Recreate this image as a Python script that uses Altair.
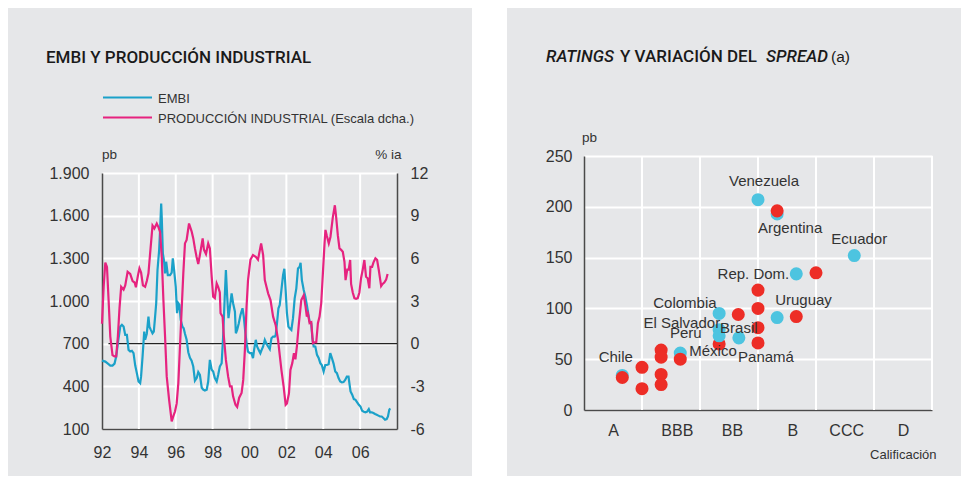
import json
import altair as alt
import pandas as pd

FONT = "Liberation Sans"
TFONT = "Roboto"
BG = "#e6e7e9"
TXT = "#333333"

# ---------------- Left panel data ----------------
embi_t = [0.00, 0.18, 0.32, 0.45, 0.57, 0.68, 0.77, 0.86, 0.99, 1.08, 1.17, 1.26, 1.35, 1.44, 1.53, 1.62,
          1.71, 1.80, 1.89, 1.98, 2.07, 2.12, 2.20, 2.29, 2.34, 2.43, 2.52, 2.57, 2.65, 2.74, 2.81, 2.88,
          2.94, 3.01, 3.10, 3.15, 3.21, 3.24, 3.30, 3.37, 3.42, 3.48, 3.57, 3.69, 3.78, 3.84, 3.91, 4.00,
          4.07, 4.14, 4.20, 4.27, 4.36, 4.43, 4.50, 4.59, 4.68, 4.77, 4.86, 4.95, 5.04, 5.14, 5.22, 5.31,
          5.41, 5.49, 5.58, 5.68, 5.76, 5.85, 5.95, 6.03, 6.12, 6.22, 6.30, 6.39, 6.49, 6.57, 6.65, 6.72,
          6.79, 6.86, 6.94, 7.03, 7.11, 7.21, 7.26, 7.33, 7.42, 7.51, 7.62, 7.69, 7.76, 7.84, 7.92, 8.02,
          8.11, 8.19, 8.25, 8.34, 8.41, 8.50, 8.59, 8.66, 8.74, 8.83, 8.92, 9.01, 9.10, 9.19, 9.28, 9.37,
          9.42, 9.49, 9.57, 9.64, 9.73, 9.82, 9.89, 9.96, 10.03, 10.11, 10.18, 10.27, 10.36, 10.45, 10.54,
          10.63, 10.72, 10.77, 10.84, 10.94, 11.03, 11.11, 11.17, 11.26, 11.35, 11.41, 11.48, 11.57, 11.66,
          11.75, 11.84, 11.92, 12.02, 12.11, 12.20, 12.29, 12.38, 12.47, 12.56, 12.65, 12.74, 12.83, 12.92,
          13.01, 13.10, 13.19, 13.28, 13.37, 13.42, 13.48, 13.57, 13.66, 13.75, 13.84, 13.93, 14.02, 14.11,
          14.20, 14.29, 14.38, 14.47, 14.54, 14.63, 14.72, 14.81, 14.90, 14.99, 15.08, 15.17, 15.26, 15.35,
          15.44, 15.51, 15.58, 15.63]
embi_v = [581, 574, 560, 546, 546, 560, 609, 703, 820, 832, 820, 762, 762, 656, 645, 650,
          633, 548, 493, 434, 422, 470, 609, 785, 727, 770, 890, 820, 797, 773, 785, 890,
          984, 1218, 1358, 1498, 1686, 1592, 1335, 1276, 1194, 1276, 1182, 1182, 1199, 1300, 1218, 1100,
          914, 984, 972, 867, 820, 808, 770, 727, 640, 600, 580, 539, 440, 460, 500, 480,
          390, 376, 370, 376, 434, 586, 516, 504, 458, 434, 480, 539, 563, 750, 1007, 1218,
          1030, 879, 960, 1054, 984, 925, 773, 797, 843, 902, 949, 890, 797, 703, 644, 633,
          633, 598, 656, 727, 680, 656, 633, 656, 680, 727, 700, 680, 661, 738, 750, 750,
          760, 843, 949, 972, 1077, 1182, 1227, 1077, 914, 820, 808, 797, 879, 1019, 1089,
          1229, 1241, 1269, 1147, 1077, 1030, 972, 925, 855, 843, 738, 680, 680, 621,
          600, 563, 550, 504, 550, 550, 555, 633, 598, 560, 504, 493, 458, 434,
          428, 430, 445, 469, 469, 420, 364, 341, 310, 305, 287, 270, 258, 228,
          222, 217, 222, 240, 217, 217, 212, 205, 200, 194, 188, 188, 177, 165,
          170, 188, 235, 245]

ip_t = [0.00, 0.09, 0.18, 0.27, 0.36, 0.45, 0.57, 0.68, 0.77, 0.86, 0.95, 1.04, 1.17, 1.26, 1.39, 1.53,
        1.66, 1.77, 1.84, 1.95, 2.03, 2.12, 2.22, 2.34, 2.43, 2.52, 2.61, 2.74, 2.84, 2.97, 3.06, 3.15,
        3.24, 3.33, 3.42, 3.51, 3.64, 3.78, 3.87, 3.96, 4.05, 4.14, 4.27, 4.41, 4.50, 4.59, 4.72, 4.86,
        4.95, 5.04, 5.13, 5.22, 5.31, 5.46, 5.53, 5.64, 5.76, 5.85, 5.95, 6.03, 6.12, 6.22, 6.30, 6.39,
        6.43, 6.54, 6.61, 6.72, 6.84, 6.94, 7.03, 7.11, 7.24, 7.33, 7.44, 7.57, 7.66, 7.75, 7.84, 7.92,
        8.05, 8.19, 8.34, 8.46, 8.56, 8.63, 8.74, 8.83, 8.92, 9.01, 9.14, 9.28, 9.42, 9.55, 9.64, 9.73,
        9.85, 9.96, 10.03, 10.14, 10.22, 10.32, 10.41, 10.49, 10.57, 10.68, 10.81, 10.94, 11.04, 11.11,
        11.17, 11.26, 11.35, 11.44, 11.53, 11.62, 11.71, 11.80, 11.89, 11.98, 12.07, 12.12, 12.19, 12.30,
        12.39, 12.52, 12.63, 12.70, 12.79, 12.88, 12.97, 13.06, 13.15, 13.21, 13.30, 13.38, 13.46, 13.51,
        13.60, 13.69, 13.78, 13.87, 13.96, 14.05, 14.14, 14.23, 14.32, 14.41, 14.50, 14.56, 14.65, 14.72,
        14.83, 14.92, 15.01, 15.14, 15.22, 15.31, 15.41, 15.49]
ip_v = [1.4, 4.0, 5.7, 5.4, 3.0, 0.5, -0.8, -0.9, -0.9, 0.5, 2.5, 4.0, 3.8, 4.1, 5.05, 4.9,
        4.4, 4.3, 3.97, 4.8, 5.3, 5.0, 4.1, 4.0, 4.4, 4.95, 6.35, 8.3, 8.1, 8.45, 8.2, 7.86,
        6.1, 3.07, 0.5, -2.3, -3.95, -5.47, -5.1, -4.77, -4.2, -2.77, 0.97, 4.94, 7.05, 7.3, 8.45, 7.9,
        7.4, 6.7, 6.1, 5.6, 6.23, 7.4, 6.6, 6.3, 7.05, 6.7, 4.7, 3.3, 3.2, 4.24, 4.0, 3.6,
        2.14, 1.9, 0.5, -1.14, -2.3, -3.0, -3.0, -3.7, -4.3, -4.45, -3.8, -3.47, -2.55, -0.44, 2.6, 4.47,
        5.9, 6.23, 6.1, 5.9, 6.58, 7.05, 6.23, 4.47, 4.0, 3.54, 3.07, 1.9, 1.3, 0.26, -0.8, -1.84,
        -3.0, -4.3, -4.2, -3.5, -1.84, -1.37, -0.67, -1.1, -0.2, 1.44, 3.07, 3.4, 2.6, 1.9,
        2.1, 1.44, 1.5, 0.03, 0.1, 0.1, 1.44, 1.9, 2.84, 4.94, 7.05, 8.0, 7.6, 7.05,
        7.5, 8.9, 9.73, 8.9, 7.63, 6.7, 6.6, 6.46, 5.76, 4.47, 5.2, 5.2, 5.88, 4.2,
        3.6, 3.2, 3.15, 3.2, 3.6, 4.6, 5.2, 5.88, 4.7, 4.6, 3.9, 5.4, 5.4, 5.7,
        6.0, 5.9, 5.2, 4.05, 4.2, 4.3, 4.5, 4.9]

START_YEAR = 1992
year_ticks = [1992, 1994, 1996, 1998, 2000, 2002, 2004, 2006]
grid_years = [1994, 1996, 1998, 2000, 2002, 2004, 2006]
x_domain = [1992, 2008]
embi_ticks = [100, 400, 700, 1000, 1300, 1600, 1900]
ip_ticks = [-6, -3, 0, 3, 6, 9, 12]
zero_line = [1992.35, 2008]

# ---------------- Right panel data ----------------
rating_labels = ["A", "BBB", "BB", "B", "CCC", "D"]
rating_label_pos = [0.5, 1.6, 2.55, 3.59, 4.52, 5.5]
rating_bounds = [1, 2, 3, 4, 5, 6]
spread_ticks = [0, 50, 100, 150, 200, 250]

pt_serie = (["azul"] * 7) + (["rojo"] * 17) + (["azul"] * 4)
pt_x = [0.66, 1.66, 3.0, 3.33, 3.33, 3.66, 4.66,
        0.66, 1.0, 1.0, 1.33, 1.33, 1.33, 1.33, 1.66, 2.33, 2.66, 3.0, 3.0, 3.0, 3.0, 3.33, 3.66, 4.0,
        2.33, 2.33, 2.33, 2.67]
pt_y = [34, 56, 207, 193, 91, 134, 152,
        32, 42, 21, 59, 52, 35, 25, 50, 65, 94, 118, 100, 81, 66, 196, 92, 135,
        95, 79, 73, 71]
pt_name = ["Chile", "México", "Venezuela", "", "Uruguay", "Rep. Dom.", "Ecuador",
           "", "", "", "", "", "", "", "", "", "", "", "", "", "Panamá", "Argentina", "", "",
           "Colombia", "El Salvador", "Perú", "Brasil"]

# label styling: name -> (dx, dy, align)
label_style = {
    "Venezuela": (6, -19, "center"),
    "Argentina": (13, 17.5, "center"),
    "Ecuador": (5, -17, "center"),
    "Rep. Dom.": (-7, 0, "right"),
    "Colombia": (-2.5, -10, "right"),
    "Uruguay": (-2, -17.5, "left"),
    "El Salvador": (1, -7, "right"),
    "Perú": (-17.5, -3, "right"),
    "Brasil": (0, -10, "center"),
    "México": (9, -2, "left"),
    "Panamá": (8, 14, "center"),
    "Chile": (-6.5, -18, "center"),
}

# ---------------- helpers ----------------
one = pd.DataFrame({"k": [0]})


def vrect(x1, x2, y1, y2, color):
    return alt.Chart(one).mark_rect(color=color, strokeWidth=0).encode(
        x=alt.value(x1), x2=alt.value(x2), y=alt.value(y1), y2=alt.value(y2))


def txt(text, x, y, size, weight="normal", style="normal", align="left", color=TXT, font=FONT):
    return alt.Chart(pd.DataFrame({"t": [text]})).mark_text(
        align=align, baseline="middle", fontSize=size, fontWeight=weight,
        fontStyle=style, color=color, font=font).encode(
        x=alt.value(x), y=alt.value(y), text="t:N")


# ---------------- Left panel ----------------
LW, LH = 295, 273
LTOP = 17
embi_df = pd.DataFrame({"t": [START_YEAR + v for v in embi_t], "v": embi_v})
ip_df = pd.DataFrame({"t": [START_YEAR + v for v in ip_t], "v": ip_v})

xscale = alt.Scale(domain=x_domain, nice=False, zero=False)
xaxis = alt.Axis(values=year_ticks, labelExpr="substring(toString(datum.value), 2)",
                 grid=False, ticks=False, tickSize=0, labelPadding=15, labelFlush=False,
                 domainColor="#4a4a4a", domainWidth=1.5, title=None)
embi_scale = alt.Scale(domain=[100, 1900], range=[LH, LTOP], nice=False, zero=False)
ip_scale = alt.Scale(domain=[-6, 12], range=[LH, LTOP], nice=False, zero=False)

vgrid_l = alt.Chart(pd.DataFrame({"g": grid_years})).mark_rule(color="white", strokeWidth=2).encode(
    x=alt.X("g:Q", scale=xscale, axis=xaxis),
    y=alt.value(LTOP), y2=alt.value(LH))

zero = alt.Chart(one).mark_rule(color="#222222", strokeWidth=1.2).encode(
    x=alt.X(datum=zero_line[0], scale=xscale, axis=xaxis),
    x2=alt.X2(datum=zero_line[1]),
    y=alt.Y(datum=0, scale=ip_scale, axis=None))

embi_line = alt.Chart(embi_df).mark_line(color="#1ba1c9", strokeWidth=2.2).encode(
    x=alt.X("t:Q", scale=xscale, axis=xaxis),
    y=alt.Y("v:Q", scale=embi_scale,
            axis=alt.Axis(orient="left", values=embi_ticks,
                          labelExpr="replace(format(datum.value, ','), ',', '.')",
                          grid=True, gridColor="white", gridWidth=2, ticks=False, tickSize=0,
                          labelPadding=13, domainColor="#4a4a4a", domainWidth=1.5, title=None)))

ip_line = alt.Chart(ip_df).mark_line(color="#e6237f", strokeWidth=2.2).encode(
    x=alt.X("t:Q", scale=xscale, axis=xaxis),
    y=alt.Y("v:Q", scale=ip_scale,
            axis=alt.Axis(orient="right", values=ip_ticks, labelExpr="toString(datum.value)",
                          grid=False, ticks=False, tickSize=0, labelPadding=13,
                          domainColor="#4a4a4a", domainWidth=1.5, title=None)))

leg1 = alt.Chart(one).mark_rule(color="#1ba1c9", strokeWidth=2).encode(
    x=alt.value(1), x2=alt.value(50), y=alt.value(-58.5))
leg2 = alt.Chart(one).mark_rule(color="#e6237f", strokeWidth=2).encode(
    x=alt.value(1), x2=alt.value(50), y=alt.value(-38.5))

left = alt.layer(
    vrect(-94, -88, -148, 320, BG),
    vrect(370, 405, -148, 320, "white"),
    vgrid_l, zero, embi_line, ip_line,
    leg1, leg2,
    txt("EMBI", 56, -57, 13),
    txt("PRODUCCIÓN INDUSTRIAL (Escala dcha.)", 56, -37, 13),
    txt("EMBI Y PRODUCCIÓN INDUSTRIAL", -56, -98.5, 17, weight=500, color="#1a1a1a", font=TFONT),
    txt("pb", 0, -1, 13.5),
    txt("% ia", 299.5, -1, 13.5, align="right"),
).resolve_scale(y="independent").properties(width=LW, height=LH)

# ---------------- Right panel ----------------
RW, RH = 348, 254
pts = pd.DataFrame({"serie": pt_serie, "u": pt_x, "s": pt_y, "pais": pt_name})

rx_scale = alt.Scale(domain=[0, 6], nice=False, zero=False)
ry_scale = alt.Scale(domain=[0, 250], nice=False)
label_expr = "%s[indexof(%s, datum.value)]" % (json.dumps(rating_labels), json.dumps(rating_label_pos))
rx_axis = alt.Axis(values=rating_label_pos, labelExpr=label_expr, grid=False, ticks=False, tickSize=0,
                   labelPadding=12, labelFlush=False, domainColor="#4a4a4a", domainWidth=1.5, title=None)
ry_axis = alt.Axis(values=spread_ticks, grid=True, gridColor="white", gridWidth=2, ticks=False, tickSize=0,
                   labelPadding=12, domainColor="#4a4a4a", domainWidth=1.5, title=None)

vgrid_r = alt.Chart(pd.DataFrame({"g": rating_bounds})).mark_rule(color="white", strokeWidth=2).encode(
    x=alt.X("g:Q", scale=rx_scale, axis=rx_axis),
    y=alt.Y(datum=0, scale=ry_scale, axis=ry_axis),
    y2=alt.Y2(datum=250))

points = alt.Chart(pts).mark_circle(size=170, opacity=1).encode(
    x=alt.X("u:Q", scale=rx_scale, axis=rx_axis),
    y=alt.Y("s:Q", scale=ry_scale, axis=ry_axis),
    color=alt.Color("serie:N", scale=alt.Scale(domain=["azul", "rojo"], range=["#4dc4e0", "#ed2d26"]),
                    legend=None))

label_layers = []
for name, (dx, dy, align) in label_style.items():
    label_layers.append(
        alt.Chart(pts).transform_filter(alt.datum.pais == name).mark_text(
            dx=dx, dy=dy, align=align, baseline="middle", fontSize=15, font=FONT, color=TXT).encode(
            x=alt.X("u:Q", scale=rx_scale, axis=rx_axis),
            y=alt.Y("s:Q", scale=ry_scale, axis=ry_axis),
            text="pais:N"))

right = alt.layer(
    vrect(-77, -72, -148, -142, BG),
    vrect(371, 377, -148, -142, BG),
    vgrid_r, points, *label_layers,
    txt("RATINGS", -38, -99, 17, weight=500, style="italic", color="#1a1a1a", font=TFONT),
    txt("Y VARIACIÓN DEL", 36, -99, 17, weight=500, color="#1a1a1a", font=TFONT),
    txt("SPREAD", 182, -99, 17, weight=500, style="italic", color="#1a1a1a", font=TFONT),
    txt("(a)", 247, -99, 15.5, color="#1a1a1a"),
    txt("pb", -2, -18, 13.5),
    txt("Calificación", 352.5, 298.5, 13, align="right"),
).properties(width=RW, height=RH)

chart = alt.hconcat(left, right, spacing=0).properties(
    padding=0, background=BG
).configure_view(stroke=None).configure_axis(
    labelFont=FONT, labelFontSize=16, labelColor=TXT
).configure_text(font=FONT)

chart.save("out.html", embed_options={"renderer": "svg", "actions": False})
